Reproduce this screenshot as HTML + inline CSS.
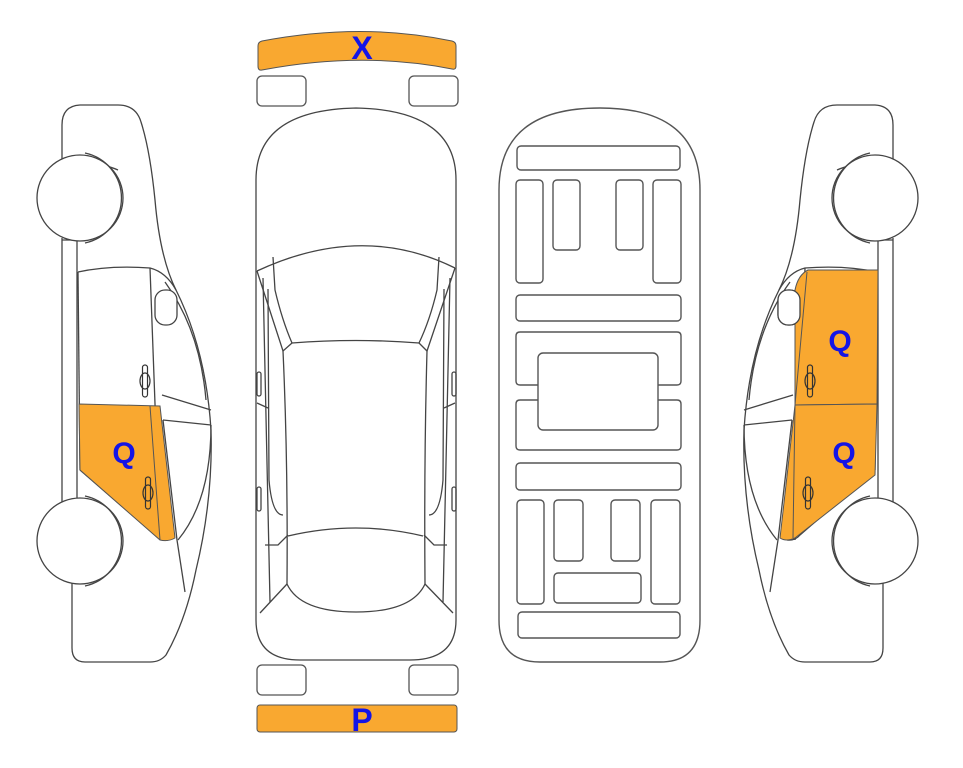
<!DOCTYPE html>
<html><head><meta charset="utf-8"><style>
html,body{margin:0;padding:0;background:#fff;width:963px;height:768px;overflow:hidden}
svg{display:block}
text{font-family:"Liberation Sans",Arial,sans-serif;font-weight:bold;fill:#1414e6}
</style></head><body>
<svg width="963" height="768" viewBox="0 0 963 768" xmlns="http://www.w3.org/2000/svg">
<defs>
<g id="side" fill="none" stroke="#444" stroke-width="1.3">
  <path d="M62 165 L62 125 Q62 106 80 105 L118 105 Q136 105 141 122 Q150 150 155 200 Q160 258 176 290 Q206 350 211 430 Q213 500 196 570 Q186 620 166 655 Q160 662 150 662 L85 662 Q72 662 72 648 L72 580" fill="#fff"/>
  <path d="M62 165 Q95 160 118 170"/>
  <path d="M62 238 L62 505 M77 238 L77 505 M62 240 L77 240"/>
  <path d="M78 272 Q110 265 150 268 Q166 272 176 290"/>
  <path d="M78 272 L80 470"/>
  <path d="M150 268 L160 540"/>
  <path d="M165 282 Q200 330 206 400"/>
  <path d="M162 395 L211 410 M163 420 L211 425"/>
  <path d="M163 420 L177 540 L185 592"/>
  <path d="M211 425 Q211 500 178 540"/>
  <path d="M80 470 L155 535 Q160 541 168 540"/>
  <rect x="155" y="290" width="22" height="35" rx="10" fill="#fff"/>
  <circle cx="80" cy="198" r="43" fill="#fff"/>
  <path d="M85 153 A46 46 0 0 1 85 243"/>
  <circle cx="80" cy="541" r="43" fill="#fff"/>
  <path d="M85 496 A46 46 0 0 1 85 586"/>
</g>
<g id="handle" fill="none" stroke="#333" stroke-width="1.2">
  <ellipse cx="0" cy="0" rx="5" ry="8"/>
  <rect x="-2.5" y="-16" width="5" height="32" rx="2.5"/>
</g>
</defs>

<!-- left car -->
<use href="#side"/>
<path d="M79 404 L160 406 L175 538 Q168 542 160 540 L80 470 Z" fill="#f9a830" stroke="#555" stroke-width="1"/>
<path d="M150 406 L160 540" stroke="#555" fill="none"/>
<use href="#handle" x="145" y="381"/>
<use href="#handle" x="148" y="493"/>
<text x="124" y="463" font-size="30" text-anchor="middle">Q</text>

<!-- right car -->
<use href="#side" transform="translate(955,0) scale(-1,1)"/>
<path d="M808 270 L878 270 L877 404 L795 405 L795 290 Q798 275 808 270 Z" fill="#f9a830" stroke="#555" stroke-width="1"/>
<path d="M795 405 L877 404 L875 475 L795 538 Q786 542 780 538 Z" fill="#f9a830" stroke="#555" stroke-width="1"/>
<path d="M807 272 L795 405 L793 538" stroke="#555" fill="none"/>
<rect x="778" y="290" width="22" height="35" rx="10" fill="#fff" stroke="#444" stroke-width="1.3"/>
<use href="#handle" x="810" y="381"/>
<use href="#handle" x="808" y="493"/>
<text x="840" y="351" font-size="30" text-anchor="middle">Q</text>
<text x="844" y="463" font-size="30" text-anchor="middle">Q</text>

<!-- top bumper -->
<path d="M258 46 Q258 42 262 41 Q362 22 452 41 Q456 42 456 46 L456 66 Q456 70 452 69 Q362 51 262 70 Q258 71 258 66 Z" fill="#f9a830" stroke="#555" stroke-width="1"/>
<text x="362" y="59" font-size="32" text-anchor="middle">X</text>
<!-- bottom bumper -->
<rect x="257" y="705" width="200" height="27" rx="3" fill="#f9a830" stroke="#555" stroke-width="1"/>
<text x="362" y="731" font-size="32" text-anchor="middle">P</text>

<g fill="none" stroke="#555" stroke-width="1.3">
<rect x="257" y="76" width="49" height="30" rx="5"/>
<rect x="409" y="76" width="49" height="30" rx="5"/>
<rect x="257" y="665" width="49" height="30" rx="5"/>
<rect x="409" y="665" width="49" height="30" rx="5"/>
</g>

<!-- top view car -->
<g fill="none" stroke="#444" stroke-width="1.3">
<path d="M256 620 L256 180 Q256 110 356 108 Q456 110 456 180 L456 620 Q456 660 410 660 L300 660 Q256 660 256 620 Z"/>
<path d="M257 271 Q362 222 455 268"/>
<path d="M273 257 L275 290 Q282 320 292 343 M439 257 L437 290 Q430 320 419 343"/>
<path d="M292 343 Q356 338 419 343"/>
<path d="M257 271 L283 351 L292 343 M455 268 L427 351 L419 343"/>
<path d="M283 351 Q288 460 287 584 M427 351 Q424 460 425 584"/>
<path d="M288 536 Q356 520 423 536"/>
<path d="M287 584 Q300 612 356 612 Q412 612 425 584"/>
<path d="M260 613 L287 584 M453 613 L425 584"/>
<path d="M263 278 L270 602 M450 278 L443 602"/>
<path d="M268 289 L269 480 Q272 515 283 515 M444 289 L443 480 Q440 515 429 515"/>
<path d="M265 545 L278 545 L288 535 M447 545 L434 545 L424 535"/>
<path d="M257 403 L268 408 M455 403 L444 408"/>
<rect x="257" y="372" width="4" height="24" rx="2"/>
<rect x="452" y="372" width="4" height="24" rx="2"/>
<rect x="257" y="487" width="4" height="24" rx="2"/>
<rect x="452" y="487" width="4" height="24" rx="2"/>
</g>

<!-- underside -->
<g fill="none" stroke="#555" stroke-width="1.4">
<path d="M499 620 L499 190 Q499 108 600 108 Q700 108 700 190 L700 620 Q700 662 660 662 L540 662 Q499 662 499 620 Z"/>
<rect x="517" y="146" width="163" height="24" rx="4"/>
<rect x="516" y="180" width="27" height="103" rx="4"/>
<rect x="553" y="180" width="27" height="70" rx="4"/>
<rect x="616" y="180" width="27" height="70" rx="4"/>
<rect x="653" y="180" width="28" height="103" rx="4"/>
<rect x="516" y="295" width="165" height="26" rx="4"/>
<path d="M538 385 L520 385 Q516 385 516 381 L516 336 Q516 332 520 332 L677 332 Q681 332 681 336 L681 381 Q681 385 677 385 L658 385"/>
<path d="M538 400 L520 400 Q516 400 516 404 L516 446 Q516 450 520 450 L677 450 Q681 450 681 446 L681 404 Q681 400 677 400 L658 400"/>
<rect x="538" y="353" width="120" height="77" rx="5"/>
<rect x="516" y="463" width="165" height="27" rx="4"/>
<rect x="517" y="500" width="27" height="104" rx="4"/>
<rect x="554" y="500" width="29" height="61" rx="4"/>
<rect x="611" y="500" width="29" height="61" rx="4"/>
<rect x="651" y="500" width="29" height="104" rx="4"/>
<rect x="554" y="573" width="87" height="30" rx="4"/>
<rect x="518" y="612" width="162" height="26" rx="4"/>
</g>
</svg>
</body></html>
